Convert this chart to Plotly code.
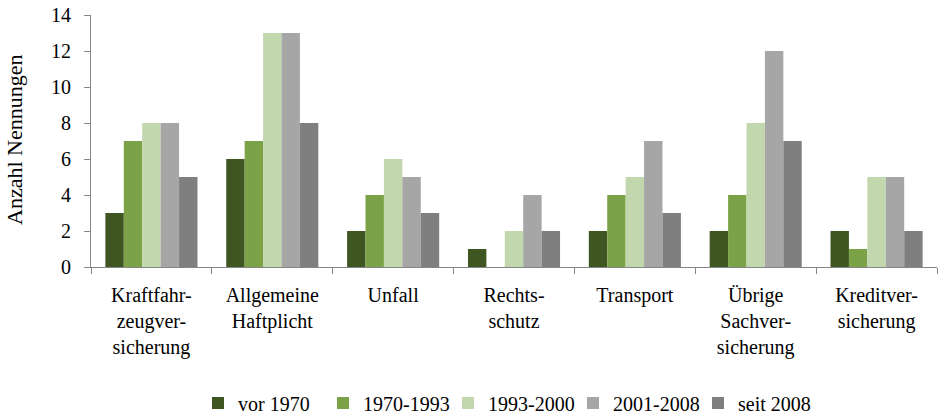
import plotly.graph_objects as go

categories = ["Kraftfahr-<br>zeugver-<br>sicherung", "Allgemeine<br>Haftplicht", "Unfall",
              "Rechts-<br>schutz", "Transport", "Übrige<br>Sachver-<br>sicherung", "Kreditver-<br>sicherung"]
series_names = ["vor 1970", "1970-1993", "1993-2000", "2001-2008", "seit 2008"]
vor_1970 = [3, 6, 2, 1, 2, 2, 2]
s_1970_1993 = [7, 7, 4, 0, 4, 4, 1]
s_1993_2000 = [8, 13, 6, 2, 5, 8, 5]
s_2001_2008 = [8, 13, 5, 4, 7, 12, 5]
seit_2008 = [5, 8, 3, 2, 3, 7, 2]
y_ticks = [0, 2, 4, 6, 8, 10, 12, 14]
y_title = "Anzahl Nennungen"

colors = ["#3F5623", "#7BA246", "#C3D7AF", "#A6A6A6", "#7F7F7F"]
values = [vor_1970, s_1970_1993, s_1993_2000, s_2001_2008, seit_2008]

FONT = "Liberation Serif"
W, H = 938, 415
ML, MR, MT, MB = 91, 1, 15, 148
PW = W - ML - MR
PH = H - MT - MB

fig = go.Figure()
for name, vals, col in zip(series_names, values, colors):
    fig.add_trace(go.Bar(x=categories, y=vals, name=name, marker=dict(color=col, line=dict(width=0))))

fig.update_layout(
    width=W, height=H,
    margin=dict(l=ML, r=MR, t=MT, b=MB, autoexpand=False),
    barmode="group", bargap=0.238, bargroupgap=0,
    plot_bgcolor="white", paper_bgcolor="white",
    font=dict(family=FONT, size=20, color="black"),
    showlegend=True,
    legend=dict(orientation="h", x=(198 - ML) / PW, xanchor="left",
                y=-(403 - (H - MB)) / PH, yanchor="middle",
                entrywidth=80, entrywidthmode="pixels",
                font=dict(family=FONT, size=20, color="black"), itemwidth=30, traceorder="normal"),
    annotations=[dict(text=y_title, xref="paper", yref="paper", x=(14 - ML) / PW,
                      y=((H - MB) - 140) / PH,
                      xanchor="center", yanchor="middle", textangle=-90, showarrow=False,
                      font=dict(family=FONT, size=22, color="black"))],
)
fig.update_xaxes(
    showline=True, linecolor="#868686", linewidth=1, automargin=False,
    ticks="outside", tickson="boundaries", ticklen=6, tickcolor="#868686",
    ticklabelstandoff=10, showgrid=False,
    tickfont=dict(family=FONT, size=20, color="black"),
)
fig.update_yaxes(
    range=[0, 14], tickvals=y_ticks, showline=True, linecolor="#868686", linewidth=1,
    ticks="outside", ticklen=6, tickcolor="#868686", showgrid=False, zeroline=False,
    automargin=False, ticklabelstandoff=9,
    tickfont=dict(family=FONT, size=20, color="black"),
)
fig.write_html("out.html", config={"displayModeBar": False},
               post_script="document.body.style.margin='0';")
